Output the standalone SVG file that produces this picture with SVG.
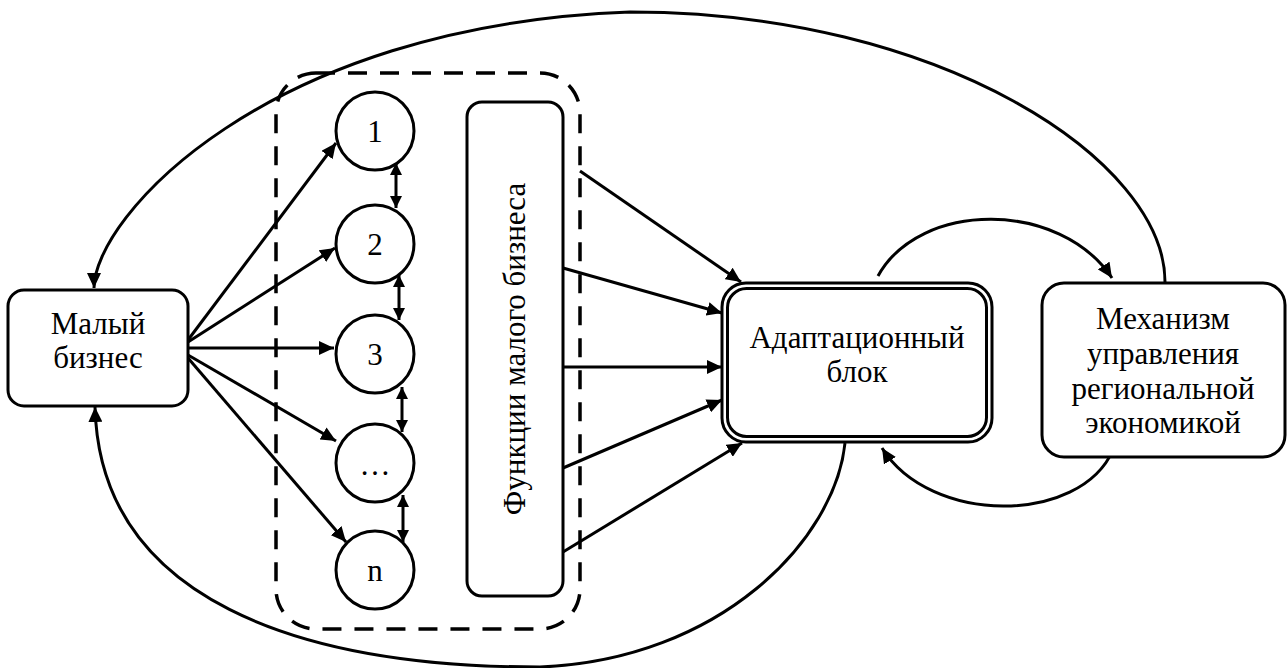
<svg xmlns="http://www.w3.org/2000/svg" width="1288" height="668" viewBox="0 0 1288 668">
<style>
.box{fill:#fff;stroke:#000;stroke-width:3}
.ln{fill:none;stroke:#000;stroke-width:3}
.t{font-family:"Liberation Serif","Times New Roman","DejaVu Serif",serif;font-size:31px;fill:#000;text-anchor:middle}
</style>
<defs>
<marker id="ah" markerUnits="userSpaceOnUse" markerWidth="16" markerHeight="14" refX="15" refY="7" orient="auto-start-reverse">
<path d="M0,0 L15,7 L0,14 z" fill="#000"/>
</marker>
<marker id="ahs" markerUnits="userSpaceOnUse" markerWidth="13" markerHeight="12" refX="12" refY="6" orient="auto-start-reverse">
<path d="M0,0 L12,6 L0,12 z" fill="#000"/>
</marker>
</defs>
<rect width="1288" height="668" fill="#fff"/>

<g id="group-dashed">
<rect x="276" y="73" width="304" height="556" rx="40" fill="none" stroke="#000" stroke-width="3.5" stroke-dasharray="19 13"/>
</g>

<g id="connectors">
<path class="ln" d="M1165,282 C1165,160 940,12 630,12 C265,25 94,218 94,288" marker-end="url(#ah)"/>
<path class="ln" d="M845,443 C835,540 720,660 540,667 C300,667 100,600 95,407" marker-end="url(#ah)"/>
<path class="ln" d="M878,276 C920,200 1060,200 1112,278" marker-end="url(#ah)"/>
<path class="ln" d="M1113,450 C1080,525 930,525 882,448" marker-end="url(#ah)"/>
<line class="ln" x1="188" y1="340" x2="336" y2="143" marker-end="url(#ah)"/>
<line class="ln" x1="188" y1="342" x2="335" y2="248" marker-end="url(#ah)"/>
<line class="ln" x1="188" y1="348" x2="334" y2="348" marker-end="url(#ah)"/>
<line class="ln" x1="188" y1="355" x2="336" y2="441" marker-end="url(#ah)"/>
<line class="ln" x1="188" y1="358" x2="346" y2="542" marker-end="url(#ah)"/>
<line class="ln" x1="396" y1="163" x2="396" y2="208" marker-start="url(#ahs)" marker-end="url(#ahs)"/>
<line class="ln" x1="399" y1="275" x2="399" y2="320" marker-start="url(#ahs)" marker-end="url(#ahs)"/>
<line class="ln" x1="402" y1="387" x2="402" y2="432" marker-start="url(#ahs)" marker-end="url(#ahs)"/>
<line class="ln" x1="403" y1="495" x2="403" y2="542" marker-start="url(#ahs)" marker-end="url(#ahs)"/>
<line class="ln" x1="580" y1="171" x2="741" y2="282" marker-end="url(#ah)"/>
<line class="ln" x1="563" y1="268" x2="722" y2="313" marker-end="url(#ah)"/>
<line class="ln" x1="563" y1="367" x2="722" y2="367" marker-end="url(#ah)"/>
<line class="ln" x1="563" y1="468" x2="722" y2="400" marker-end="url(#ah)"/>
<line class="ln" x1="563" y1="552" x2="742" y2="443" marker-end="url(#ah)"/>
</g>

<g id="node-small-business">
<rect class="box" x="8" y="290" width="180" height="116" rx="16"/>
<text class="t" x="98" y="334">Малый</text>
<text class="t" x="98" y="368">бизнес</text>
</g>

<g id="node-c1"><circle class="box" cx="375" cy="131" r="39"/><text class="t" x="375" y="142">1</text></g>
<g id="node-c2"><circle class="box" cx="375" cy="244" r="39"/><text class="t" x="375" y="255">2</text></g>
<g id="node-c3"><circle class="box" cx="375" cy="354" r="39"/><text class="t" x="375" y="365">3</text></g>
<g id="node-c4"><circle class="box" cx="375" cy="463" r="39"/><text class="t" x="375" y="475">…</text></g>
<g id="node-cn"><circle class="box" cx="375" cy="570" r="39"/><text class="t" x="375" y="581">n</text></g>

<g id="node-functions">
<rect class="box" x="467" y="102" width="96" height="494" rx="15"/>
<text class="t" transform="translate(525,349) rotate(-90)">Функции малого бизнеса</text>
</g>

<g id="node-adaptation">
<rect class="box" x="722" y="283" width="270" height="159" rx="24"/>
<rect class="box" x="727.5" y="288.5" width="259" height="148" rx="19"/>
<text class="t" x="857" y="348">Адаптационный</text>
<text class="t" x="857" y="382">блок</text>
</g>

<g id="node-mechanism">
<rect class="box" x="1042" y="283" width="243" height="174" rx="22"/>
<text class="t" x="1163" y="329">Механизм</text>
<text class="t" x="1163" y="364">управления</text>
<text class="t" x="1163" y="399">региональной</text>
<text class="t" x="1163" y="433">экономикой</text>
</g>
</svg>
